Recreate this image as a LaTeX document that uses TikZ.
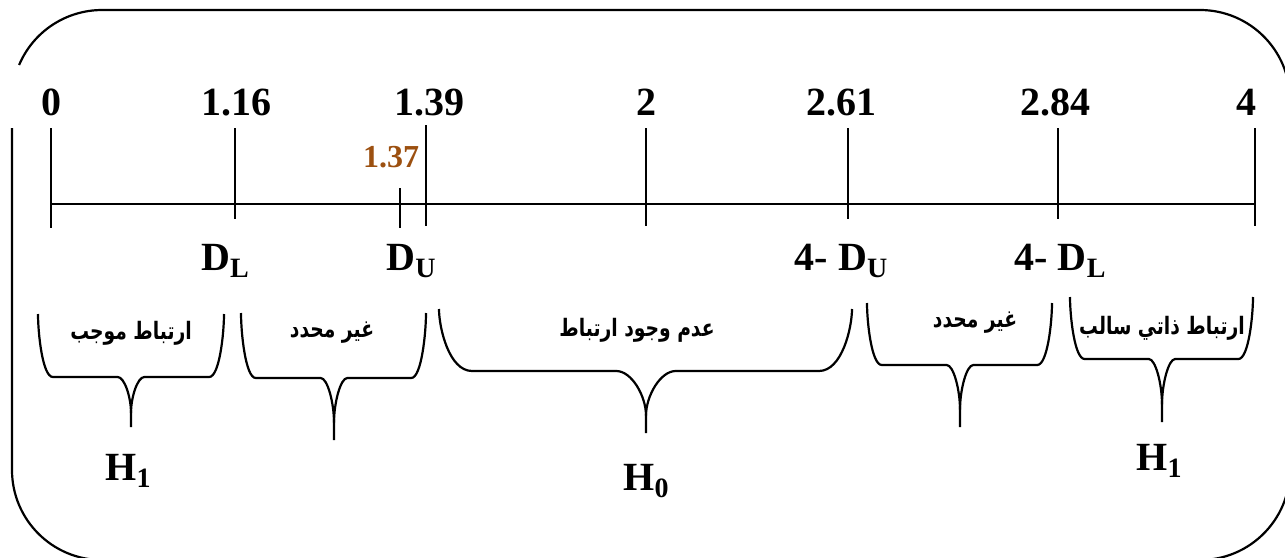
\documentclass[tikz,border=0pt]{standalone}
\usepackage{fontspec}
\setmainfont{Liberation Serif}
\newfontfamily\arabicfont[Script=Arabic,FakeStretch=0.78]{DejaVu Sans}
\TeXXeTstate=1
\usetikzlibrary{positioning}
\definecolor{ValBrown}{RGB}{156,80,16}
\tikzset{
  axisline/.style={draw=black,line width=1.1pt},
  tickline/.style={draw=black,line width=1.1pt},
  curlybr/.style={draw=black,line width=1.1pt},
  outerframe/.style={draw=black,line width=1.1pt},
  numlab/.style={inner sep=0pt,anchor=base,font=\fontsize{20}{20}\selectfont\bfseries},
  smallval/.style={numlab,text=ValBrown,font=\fontsize{16}{16}\selectfont\bfseries},
  arlab/.style={inner sep=0pt,font=\arabicfont\bfseries\fontsize{12}{12}\selectfont},
}
\newcommand{\lowidx}[1]{\raisebox{-3.5pt}{\fontsize{14}{14}\selectfont #1}}
% horizontal curly brace: left, right, top, middle line, tip x, tip bottom
\newcommand{\hbrace}[6]{%
  \draw[curlybr] (#1,#3) .. controls (#1,{#3+0.3*(#4-#3)}) and ({#1+0.024*(#2-#1)},#4) .. ({#1+0.08*(#2-#1)},#4)
    -- ({#5-0.072*(#2-#1)},#4) .. controls ({#5-0.035*(#2-#1)},#4) and (#5,{#4+0.4*(#6-#4)}) .. (#5,{#4+0.72*(#6-#4)})
    -- (#5,#6);
  \draw[curlybr] (#2,#3) .. controls (#2,{#3+0.3*(#4-#3)}) and ({#2-0.024*(#2-#1)},#4) .. ({#2-0.08*(#2-#1)},#4)
    -- ({#5+0.072*(#2-#1)},#4) .. controls ({#5+0.035*(#2-#1)},#4) and (#5,{#4+0.4*(#6-#4)}) .. (#5,{#4+0.72*(#6-#4)});
}

\begin{document}
\begin{tikzpicture}[x=0.5pt,y=-0.5pt]
\clip (0,0) rectangle (1285,557);
% frame
\draw[outerframe] (19.1,65) arc[start angle=202.9,end angle=270,radius=90] -- (1200,10)
  arc[start angle=270,end angle=360,radius=90] -- (1290,470)
  arc[start angle=0,end angle=90,radius=90] -- (102,560)
  arc[start angle=90,end angle=180,radius=90] -- (12,128);
% axis and ticks
\coordinate (ax0) at (51,204);
\coordinate (ax4) at (1255,204);
\coordinate (k0a) at (51,128);   \coordinate (k0b) at (51,228);
\coordinate (k1a) at (235,128);  \coordinate (k1b) at (235,219);
\coordinate (k2a) at (400,188);  \coordinate (k2b) at (400,228);
\coordinate (k3a) at (426,125);  \coordinate (k3b) at (426,226);
\coordinate (k4a) at (646,128);  \coordinate (k4b) at (646,226);
\coordinate (k5a) at (848,128);  \coordinate (k5b) at (848,219);
\coordinate (k6a) at (1058,128); \coordinate (k6b) at (1058,219);
\coordinate (k7a) at (1255,128); \coordinate (k7b) at (1255,226);
\draw[axisline] (ax0)--(ax4);
\draw[tickline] (k0a)--(k0b);
\draw[tickline] (k1a)--(k1b);
\draw[tickline] (k2a)--(k2b);
\draw[tickline] (k3a)--(k3b);
\draw[tickline] (k4a)--(k4b);
\draw[tickline] (k5a)--(k5b);
\draw[tickline] (k6a)--(k6b);
\draw[tickline] (k7a)--(k7b);
% values
\node[numlab] (v0) at (51,115) {0};
\node[numlab] (v1) at (236,115) {1.16};
\node[numlab] (v2) at (429,115) {1.39};
\node[numlab] (v3) at (646,115) {2};
\node[numlab] (v4) at (841,115) {2.61};
\node[numlab] (v5) at (1055,115) {2.84};
\node[numlab] (v6) at (1246,115) {4};
\node[smallval] (dw) at (391,167) {1.37};
% bounds
\node[numlab] (dl) at (225,270) {D\lowidx{L}};
\node[numlab] (du) at (411,270) {D\lowidx{U}};
\node[numlab] (mdu) at (841,270) {4- D\lowidx{U}};
\node[numlab] (mdl) at (1060,270) {4- D\lowidx{L}};
% braces
\hbrace{38}{224}{314}{377}{131}{427}
\hbrace{241}{426}{313}{378}{334}{440}
\hbrace{439}{852}{309}{371}{646}{433}
\hbrace{867}{1052}{303}{365}{960}{427}
\hbrace{1070}{1253}{297}{359}{1162}{422}
\node[arlab] (r1) at (131,333) {\beginR ارتباط موجب\endR};
\node[arlab] (r2) at (332,333) {\beginR غير محدد\endR};
\node[arlab] (r3) at (637,330) {\beginR عدم وجود ارتباط\endR};
\node[arlab] (r4) at (975,323) {\beginR غير محدد\endR};
\node[arlab] (r5) at (1162,328) {\beginR ارتباط ذاتي سالب\endR};
% hypotheses
\node[numlab] (h1a) at (128,480) {H\lowidx{1}};
\node[numlab] (h0) at (646,490) {H\lowidx{0}};
\node[numlab] (h1b) at (1159,470) {H\lowidx{1}};
\end{tikzpicture}
\end{document}
